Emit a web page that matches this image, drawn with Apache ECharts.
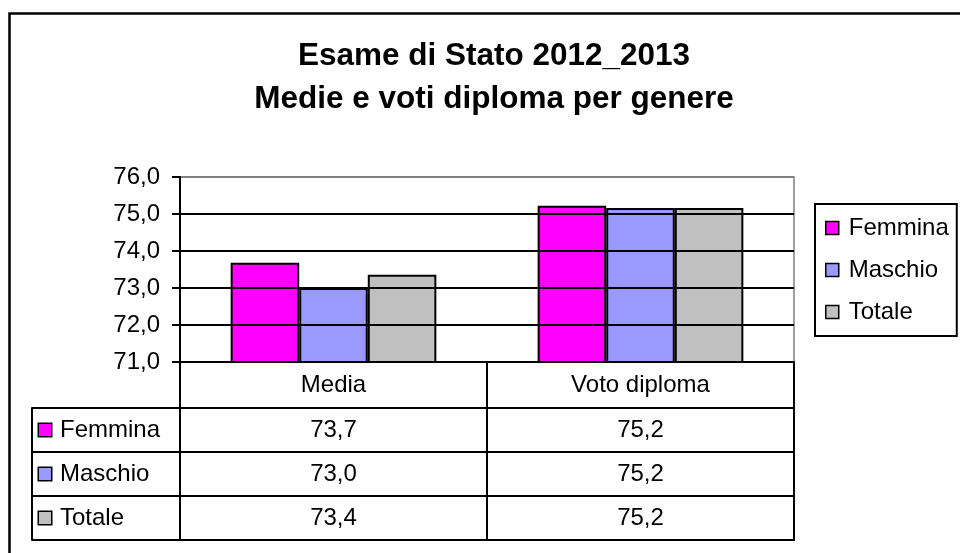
<!DOCTYPE html>
<html>
<head>
<meta charset="utf-8">
<script src="https://cdn.jsdelivr.net/npm/echarts@6/dist/echarts.min.js"></script>
<style>html,body{margin:0;padding:0;background:#fff}#c{width:960px;height:553px}</style>
</head>
<body>
<div id="c"></div>
<script>
var categories = ['Media', 'Voto diploma'];
var seriesNames = ['Femmina', 'Maschio', 'Totale'];
var femmina = [73.68, 75.22];
var maschio = [73.0, 75.16];
var totale = [73.36, 75.16];
var colors = ['#FF00FF', '#9999FF', '#C0C0C0'];
var yMin = 71, yMax = 76, yStep = 1;

var values = [femmina, maschio, totale];
var FONT = 'Arial, "Liberation Sans", sans-serif';
var FS = 24;
function fmt(v) { return v.toFixed(1).replace('.', ','); }

var chart = echarts.init(document.getElementById('c'), null, {renderer: 'canvas'});

var barSeries = seriesNames.map(function (n, i) {
  return {
    name: n, type: 'bar', xAxisIndex: 0, yAxisIndex: 0,
    data: values[i], barGap: '0%', barCategoryGap: '33%',
    itemStyle: {color: colors[i], borderColor: '#000', borderWidth: 2},
    z: 3
  };
});

var cellData = [];
seriesNames.forEach(function (n, i) {
  categories.forEach(function (c, j) { cellData.push([c, n, values[i][j]]); });
});

var rich = {t: {fontSize: FS, fontFamily: FONT, color: '#000', padding: [0, 0, 0, 9]}};
seriesNames.forEach(function (n, i) {
  rich['sq' + i] = {width: 12, height: 12, backgroundColor: colors[i], borderColor: '#000', borderWidth: 1.5};
});

chart.setOption({
  animation: false,
  backgroundColor: '#fff',
  textStyle: {fontFamily: FONT},
  graphic: [{
    type: 'rect', shape: {x: 9.5, y: 13.5, width: 1000, height: 600},
    style: {fill: 'none', stroke: '#000', lineWidth: 2.5}, z: 100, silent: true
  }],
  title: {
    text: 'Esame di Stato 2012_2013\nMedie e voti diploma per genere',
    left: 489, top: 30, textAlign: 'center',
    textStyle: {fontSize: 31.5, fontWeight: 'bold', color: '#000', lineHeight: 43, fontFamily: FONT}
  },
  legend: {
    data: seriesNames, orient: 'vertical', left: 815, top: 204, icon: 'rect',
    padding: [12, 8, 12, 10], itemGap: 18, itemWidth: 13, itemHeight: 13,
    borderColor: '#000', borderWidth: 2,
    itemStyle: {borderColor: '#000', borderWidth: 1.5},
    textStyle: {fontSize: FS, color: '#000', fontFamily: FONT, lineHeight: 24, padding: [0, 0, 0, 5]}
  },
  grid: [
    {left: 180, top: 177, width: 614, height: 185, show: true, borderColor: '#808080', borderWidth: 1.5, backgroundColor: 'transparent'},
    {left: 180, top: 408, width: 614, height: 132, show: true, borderColor: '#000', borderWidth: 2}
  ],
  xAxis: [
    {
      type: 'category', gridIndex: 0, data: categories,
      axisLine: {lineStyle: {color: '#000', width: 2}},
      axisTick: {show: true, length: 178, lineStyle: {color: '#000', width: 2}},
      axisLabel: {fontSize: FS, color: '#000', margin: 11, fontFamily: FONT},
      z: 5
    },
    {
      type: 'category', gridIndex: 1, data: categories,
      axisLine: {show: false}, axisTick: {show: false}, axisLabel: {show: false},
      splitLine: {show: false}
    }
  ],
  yAxis: [
    {
      type: 'value', gridIndex: 0, min: yMin, max: yMax, interval: yStep,
      axisLine: {show: true, lineStyle: {color: '#000', width: 2}},
      axisTick: {show: true, length: 8, lineStyle: {color: '#000', width: 2}},
      axisLabel: {fontSize: FS, color: '#000', margin: 20, fontFamily: FONT, formatter: function (v) { return fmt(v); }},
      splitLine: {show: true, lineStyle: {color: ['#000', '#000', '#000', '#000', '#000', '#808080'], width: 2}},
      z: 5
    },
    {
      type: 'category', gridIndex: 1, data: seriesNames, inverse: true, offset: 148,
      axisLine: {show: true, lineStyle: {color: '#000', width: 2}},
      axisTick: {show: true, inside: true, length: 148, lineStyle: {color: '#000', width: 2}},
      axisLabel: {inside: true, margin: 7, formatter: function (v, idx) { return '{sq' + idx + '|}{t|' + v + '}'; }, rich: rich},
      splitLine: {show: true, lineStyle: {color: '#000', width: 2}}
    }
  ],
  series: barSeries.concat([{
    type: 'scatter', xAxisIndex: 1, yAxisIndex: 1, data: cellData, z: 10,
    symbolSize: 0, itemStyle: {color: '#000'}, silent: true,
    label: {show: true, position: 'inside', fontSize: FS, color: '#000', fontFamily: FONT,
      textBorderWidth: 0, textBorderColor: 'transparent', opacity: 1,
      formatter: function (p) { return fmt(p.value[2]); }}
  }])
});
</script>
</body>
</html>
